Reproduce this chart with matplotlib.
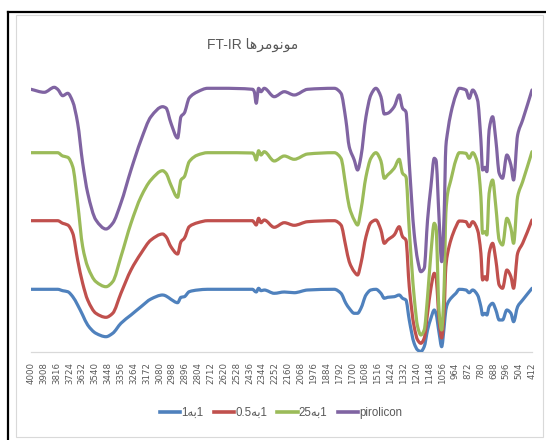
import matplotlib
matplotlib.use("Agg")
import numpy as np
import matplotlib.pyplot as plt
from matplotlib.lines import Line2D
from matplotlib.patches import Rectangle, PathPatch
from matplotlib.path import Path

# ---- data ----
wavenumber = [4000, 3905, 3833, 3809, 3773, 3737, 3701, 3666, 3630, 3594,
              3535, 3463, 3415, 3356, 3284, 3212, 3141, 3057, 3033, 2998,
              2950, 2926, 2902, 2867, 2806, 2735, 2640, 2413, 2401, 2387,
              2370, 2353, 2330, 2258, 2186, 2115, 2019, 1828, 1780, 1745,
              1721, 1685, 1661, 1637, 1601, 1566, 1530, 1494, 1470, 1446,
              1399, 1363, 1339, 1315, 1291, 1256, 1231, 1208, 1184, 1160,
              1136, 1112, 1100, 1077, 1059, 1041, 1029, 1016, 993, 957,
              933, 885, 862, 837, 802, 778, 766, 749, 735, 719,
              694, 671, 647, 623, 592, 563, 544, 515, 479, 412]

s_1to1 = [62.7, 62.7, 62.7, 62.7, 61.3, 60.3, 55.3, 47, 37, 27,
          18.7, 15.3, 18.7, 28.7, 37, 45.3, 53, 57, 56, 52.7,
          49.3, 54.7, 55.3, 60.3, 62, 62.7, 62.7, 62.7, 61.3, 60,
          63.7, 61.3, 62, 58.7, 60, 59.3, 62, 62.7, 58.7, 48.7,
          43.7, 38.7, 38.7, 43.7, 57, 62, 62.7, 58.7, 53.7, 54.7,
          55.3, 57, 53.7, 52, 32, 8.7, 2, 0.5, 5.3, 22,
          33.7, 42, 38.7, 18.7, 5.3, 25.3, 42, 48.7, 53.7, 58.7,
          62.7, 62, 59.3, 62, 57, 45.3, 37, 38.7, 37, 45.3,
          48.7, 42, 32, 32, 42, 38.7, 30.3, 45.3, 52, 63.7]

s_05to1 = [131.3, 131.3, 131.3, 131.3, 128.7, 127, 118.7, 92, 68.7, 52,
           38.7, 34.7, 38.7, 58.7, 82, 98.7, 112, 118, 115.3, 105.3,
           98, 110.3, 113.7, 125.3, 129.3, 131.3, 131.3, 131.3, 129.3, 127,
           133.7, 129.3, 132, 124.7, 129.3, 126.7, 130.3, 131.3, 127, 105.3,
           90.3, 80.3, 77, 88.7, 115.3, 129.3, 132, 122, 108.7, 112,
           117, 125.3, 115.3, 112, 65.3, 25.3, 12, 8.7, 13.7, 38.7,
           63.7, 78.7, 75.3, 32, 14, 42, 85.3, 98.7, 112, 125.3,
           131, 130.3, 125.3, 130.3, 122, 98.7, 72, 75.3, 72, 98.7,
           108.7, 92, 67, 63.7, 82, 75.3, 63.7, 98.7, 108.7, 132]

s_25to1 = [199.3, 199.3, 199.3, 199.3, 196, 194.7, 185.3, 149, 105.3, 85.3,
           70.3, 65.3, 70.3, 95.3, 128.7, 155.3, 172, 181.3, 178.7, 167,
           154.7, 172, 175.3, 190.3, 197, 199.3, 199.3, 199, 197, 192,
           201.3, 197, 200.3, 191, 196, 192.7, 198, 199.3, 193.7, 165.3,
           145.3, 132, 127, 142, 175.3, 193.7, 199.3, 191, 173.7, 177,
           183.7, 192.7, 178.7, 175.3, 122, 55.3, 25.3, 17, 22, 55.3,
           98.7, 128.7, 125.3, 38.7, 22, 65.3, 138.7, 158.7, 172, 192,
           199.3, 198.7, 193.7, 199.3, 188.7, 155.3, 118.7, 120.3, 117, 158.7,
           172, 145.3, 112, 107, 133.7, 123.7, 108.7, 155.3, 170.3, 200.3]

s_pirolicon = [262.7, 259.7, 264.7, 262.7, 256.3, 258.7, 250.3, 229, 189, 159,
               132, 123, 128.7, 149, 182, 212, 235.3, 245.3, 244, 229,
               214, 235.3, 239, 254, 260.3, 263.7, 263.7, 262.7, 260.3, 248.7,
               263.7, 260.3, 263.7, 255.3, 260.3, 257, 262.7, 263.7, 258.7, 232,
               205.3, 192, 182, 195.3, 235.3, 257, 263.7, 255.3, 238, 238.7,
               245.3, 257, 243.7, 240.3, 188.7, 118.7, 92, 80.3, 83.7, 132,
               165.3, 193.7, 192, 132, 90.3, 138.7, 205.3, 220.3, 238.7, 257,
               263.7, 262, 253.7, 262, 252, 212, 182, 184.7, 180.3, 222,
               235.3, 212, 178.7, 173.7, 197, 187, 172, 217, 232, 262]

series_labels = ["1\ufeea\ufe911", "0.5\ufeea\ufe911", "25\ufeea\ufe911", "pirolicon"]
series_colors = ["#4F81BD", "#C0504D", "#9BBB59", "#8064A2"]

tick_values = [4000, 3908, 3816, 3724, 3632, 3540, 3448, 3356, 3264, 3172,
               3080, 2988, 2896, 2804, 2712, 2620, 2528, 2436, 2344, 2252,
               2160, 2068, 1976, 1884, 1792, 1700, 1608, 1516, 1424, 1332,
               1240, 1148, 1056, 964, 872, 780, 688, 596, 504, 412]
tick_labels = [str(v) for v in tick_values]

title_text = "FT-IR \ufe8e\ufeeb\ufeae\ufee3\ufeee\ufee7\ufeee\ufee3"


def smoothed_path(x, y):
    """Excel-like smoothed line: cubic Bezier through every data point."""
    x = np.asarray(x, float)
    y = np.asarray(y, float)
    h = np.diff(x)
    d = np.diff(y) / h
    m = np.zeros_like(y)
    m[0], m[-1] = d[0], d[-1]
    for k in range(1, len(y) - 1):
        if d[k - 1] * d[k] > 0:
            w1 = 2 * abs(h[k]) + abs(h[k - 1])
            w2 = abs(h[k]) + 2 * abs(h[k - 1])
            m[k] = (w1 + w2) / (w1 / d[k - 1] + w2 / d[k])
    verts = [(x[0], y[0])]
    codes = [Path.MOVETO]
    for k in range(len(y) - 1):
        verts += [(x[k] + h[k] / 3, y[k] + m[k] * h[k] / 3),
                  (x[k + 1] - h[k] / 3, y[k + 1] - m[k + 1] * h[k] / 3),
                  (x[k + 1], y[k + 1])]
        codes += [Path.CURVE4] * 3
    return Path(verts, codes)


# ---- figure ----
W, H = 546, 440
fig = plt.figure(figsize=(W / 100, H / 100), dpi=100)
fig.patch.set_facecolor("white")

# frame lines (black outer, light gray chart-area border)
fig.add_artist(Line2D([8 / W, 1.0], [1 - 12.5 / H, 1 - 12.5 / H], color="black", lw=1.6))
fig.add_artist(Line2D([8 / W, 8 / W], [0, 1 - 12.5 / H], color="black", lw=1.6))
fig.add_artist(Rectangle((16 / W, 1 - 437 / H), (543 - 16) / W, (437 - 15) / H,
                         fill=False, edgecolor="#D9D9D9", lw=0.8))

ax = fig.add_axes([31 / W, 88 / H, 501 / W, 280 / H])
series = [s_1to1, s_05to1, s_25to1, s_pirolicon]
handles = []
for vals, lab, col in zip(series, series_labels, series_colors):
    patch = PathPatch(smoothed_path(wavenumber, vals), facecolor="none",
                      edgecolor=col, lw=2.3, capstyle="round", joinstyle="round")
    ax.add_patch(patch)
    handles.append(Line2D([], [], color=col, lw=2.6, label=lab))

ax.set_xlim(4000, 412)
ax.set_ylim(0, 280)
for side in ["top", "right", "left"]:
    ax.spines[side].set_visible(False)
ax.spines["bottom"].set_color("#D9D9D9")
ax.spines["bottom"].set_linewidth(0.9)
ax.spines["bottom"].set_zorder(0.5)
ax.set_yticks([])
ax.set_xticks(tick_values)
ax.set_xticklabels(tick_labels, rotation=90, fontsize=6.2, color="#595959",
                   family=["DejaVu Sans"])
ax.tick_params(axis="x", length=0, pad=7.5)
ax.set_facecolor("none")

fig.text(253 / W, 1 - 45 / H, title_text, ha="center", va="center",
         fontsize=10, color="#595959",
         family=["Liberation Sans", "DejaVu Sans"])

fig.legend(handles=handles, labels=series_labels, loc="center",
           bbox_to_anchor=(281 / W, 1 - 413 / H), ncol=4, frameon=False,
           handlelength=1.75, handletextpad=0.1, columnspacing=0.9,
           prop={"family": ["Liberation Sans", "DejaVu Sans"], "size": 8.3},
           labelcolor="#595959")

fig.savefig("out.png", dpi=100, facecolor="white")
